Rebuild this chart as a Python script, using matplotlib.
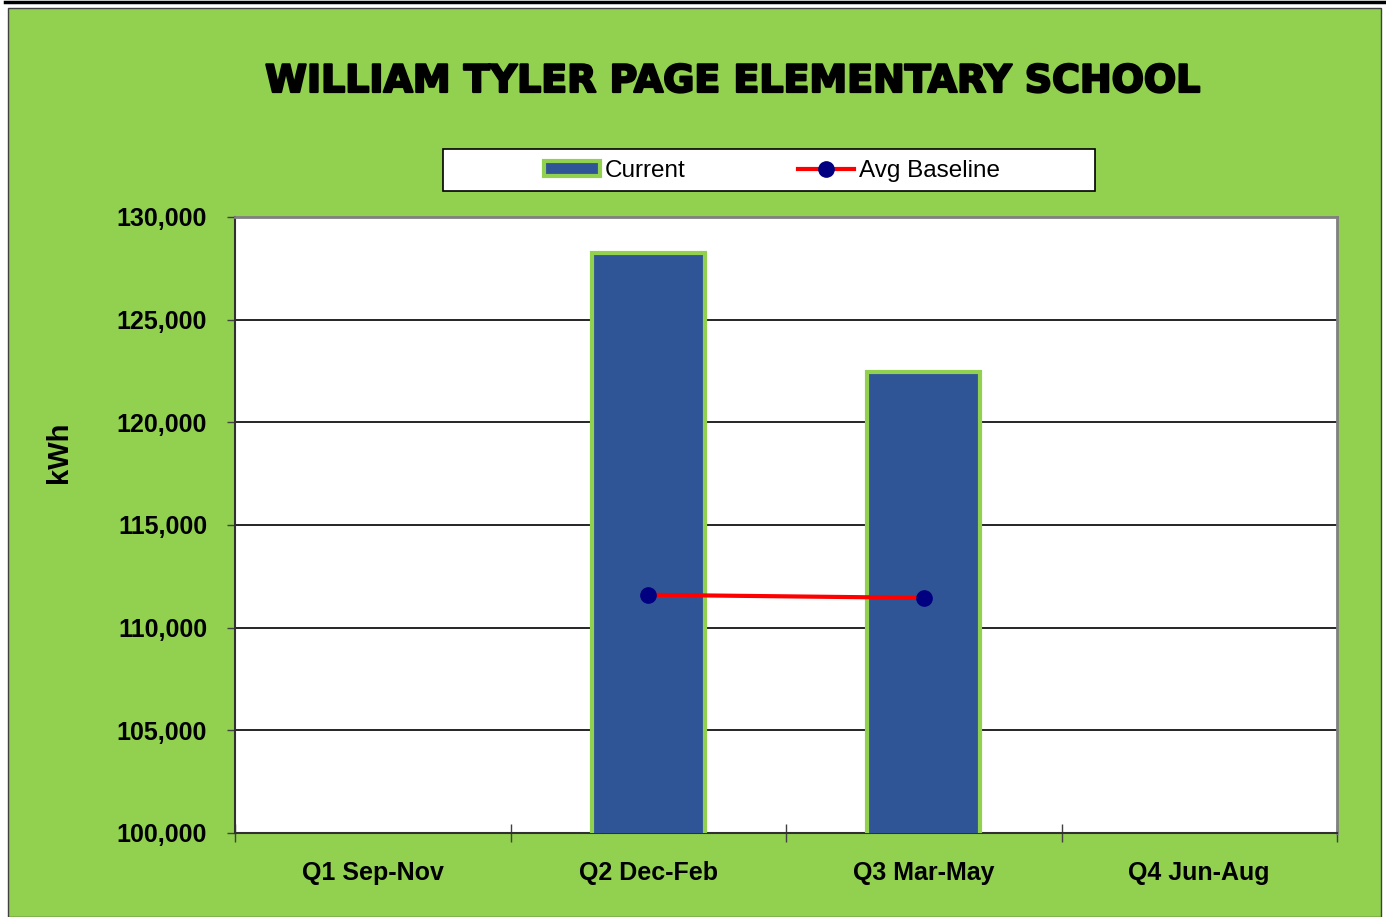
import numpy as np
import matplotlib.pyplot as plt
import matplotlib.patheffects as pe
from matplotlib.patches import Rectangle
from matplotlib.lines import Line2D

# data
quarters = ['Q1 Sep-Nov', 'Q2 Dec-Feb', 'Q3 Mar-May', 'Q4 Jun-Aug']
current = [np.nan, 128250, 122450, np.nan]
avg_baseline = [np.nan, 111600, 111450, np.nan]
yticks = [100000, 105000, 110000, 115000, 120000, 125000, 130000]

green = '#92D050'
blue = '#2F5597'
plain = ['Liberation Sans', 'DejaVu Sans']

fig = plt.figure(figsize=(13.86, 9.17), dpi=100)
fig.patch.set_facecolor('white')

# green chart area and top rule
bg = Rectangle((8 / 1386, 0), 1373 / 1386, 909 / 917, transform=fig.transFigure,
               facecolor=green, edgecolor='#404040', linewidth=1, zorder=-5)
fig.add_artist(bg)
fig.add_artist(Line2D([5 / 1386, 1], [1 - 1.5 / 917, 1 - 1.5 / 917], color='black', linewidth=2.5, zorder=-4))

ax = fig.add_axes([235 / 1386, 84 / 917, 1102 / 1386, 616 / 917])
ax.set_facecolor('white')

x = np.arange(len(quarters))
bars = ax.bar(x, current, width=0.41, color=blue, edgecolor=green, linewidth=3, zorder=3, label='Current')
line, = ax.plot(x, avg_baseline, color='red', linewidth=3, marker='o', markersize=11,
                markerfacecolor='#000080', markeredgecolor='#000080', zorder=4, label='Avg Baseline')

ax.set_xlim(-0.5, 3.5)
ax.set_ylim(100000, 130000)
ax.set_yticks(yticks)
ax.set_yticklabels([f'{v:,}' for v in yticks], family=plain, fontweight='bold', fontsize=18)
ax.yaxis.grid(True, color='black', linewidth=1.2, zorder=1)
ax.set_axisbelow(True)

ax.set_xticks(np.arange(-0.5, 4, 1))
ax.set_xticklabels([])
ax.set_xticks(x, minor=True)
ax.set_xticklabels(quarters, minor=True, family=plain, fontweight='bold', fontsize=18)
ax.tick_params(axis='x', which='major', direction='inout', length=13, width=1, color='#404040')
ax.tick_params(axis='x', which='minor', length=0, pad=20)
ax.tick_params(axis='y', direction='out', length=6, width=1, color='#404040', pad=14)

for s in ['top', 'right']:
    ax.spines[s].set_color('#808080')
    ax.spines[s].set_linewidth(2)
for s in ['left', 'bottom']:
    ax.spines[s].set_color('#303030')
    ax.spines[s].set_linewidth(1.5)

ax.set_ylabel('kWh', family=plain, fontweight='bold', fontsize=21)
ax.yaxis.set_label_coords(-0.147, 0.618)

fig.text(732 / 1386, 1 - 82 / 917, 'WILLIAM TYLER PAGE ELEMENTARY SCHOOL', ha='center', va='center',
         fontsize=27.3, fontweight='heavy', family=['DejaVu Sans'],
         path_effects=[pe.withStroke(linewidth=1.6, foreground='black')])

# legend box
fig.add_artist(Rectangle((443 / 1386, 1 - 191 / 917), 652 / 1386, 42 / 917, transform=fig.transFigure,
                         facecolor='white', edgecolor='black', linewidth=1.2, zorder=1))
fig.legend([bars, line], ['Current', 'Avg Baseline'], loc='center',
           bbox_to_anchor=(772 / 1386, 1 - 171 / 917), ncol=2, frameon=False,
           prop={'family': plain, 'size': 17.5}, handlelength=2.3, handletextpad=0.2,
           columnspacing=4.6, handleheight=0.6)

plt.savefig('out.png', dpi=100, facecolor=fig.get_facecolor())
